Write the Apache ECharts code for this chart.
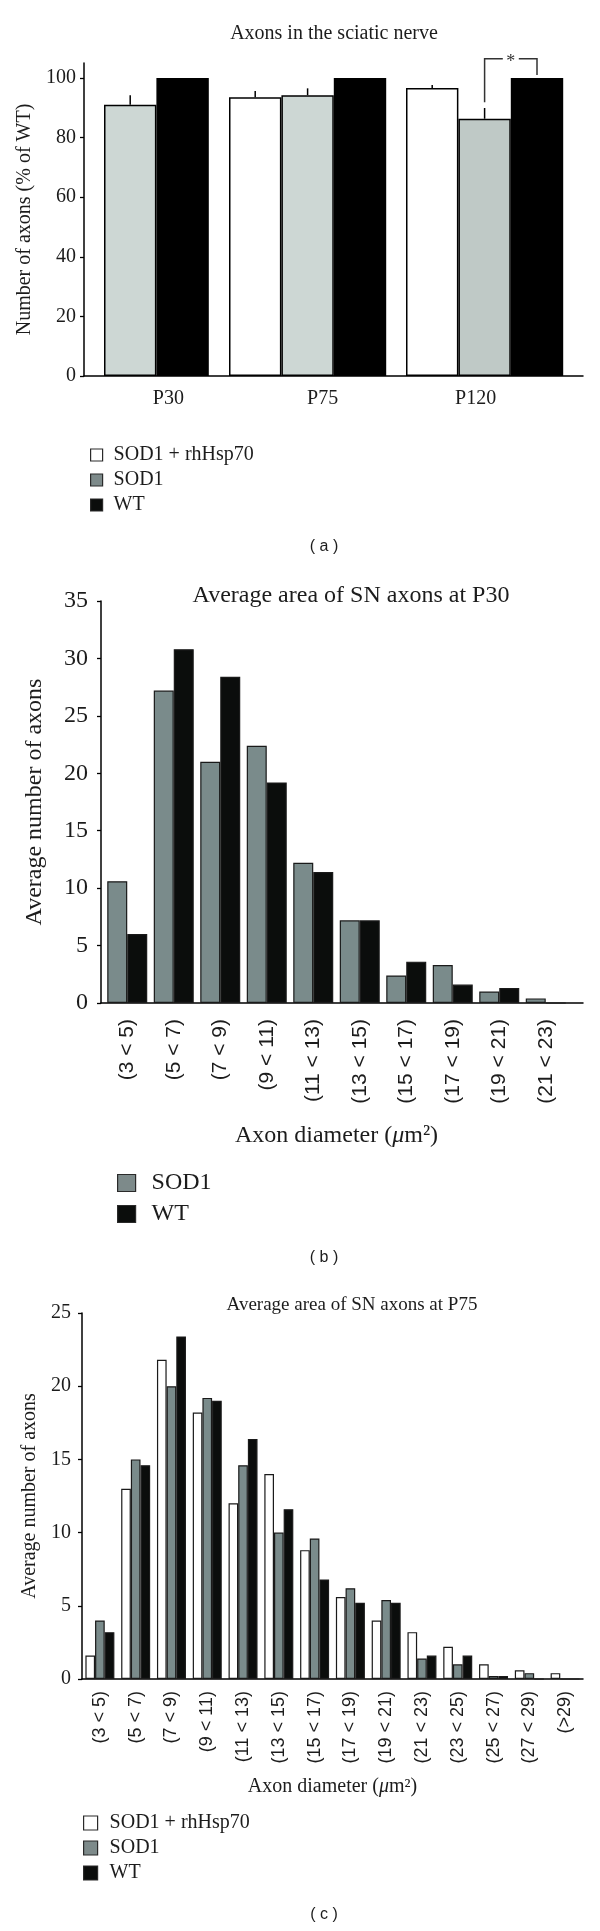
<!DOCTYPE html>
<html>
<head>
<meta charset="utf-8">
<script src="https://cdn.jsdelivr.net/npm/echarts@6/dist/echarts.min.js"></script>
<style>
html,body{margin:0;padding:0;background:#fff;}
#chart{width:600px;height:1931px;}
</style>
</head>
<body>
<div id="chart"></div>
<script>
// ---------------- DATA ----------------
// (a) Axons in the sciatic nerve (% of WT)
const aCategories = ['P30', 'P75', 'P120'];
const aHsp70    = [null, 93.5, 96.6];
const aHsp70Err = [null, 2.1, 1.0];
const aSOD1     = [91.0, 94.2, 86.3];
const aSOD1Err  = [3.2, 2.3, 3.6];
const aWT       = [100, 100, 100];
const aYTicks   = [0, 20, 40, 60, 80, 100];
const aBracket  = [106.4, 91.8, 101.0]; // P120 SOD1 vs WT: bracket top, left leg end, right leg end

// (b) Average area of SN axons at P30
const bCategories = ['(3 < 5)', '(5 < 7)', '(7 < 9)', '(9 < 11)', '(11 < 13)', '(13 < 15)', '(15 < 17)', '(17 < 19)', '(19 < 21)', '(21 < 23)'];
const bSOD1 = [10.6, 27.2, 21.0, 22.4, 12.2, 7.2, 2.4, 3.3, 1.0, 0.4];
const bWT   = [6.0, 30.8, 28.4, 19.2, 11.4, 7.2, 3.6, 1.6, 1.3, 0];
const bYTicks = [0, 5, 10, 15, 20, 25, 30, 35];

// (c) Average area of SN axons at P75
const cCategories = ['(3 < 5)', '(5 < 7)', '(7 < 9)', '(9 < 11)', '(11 < 13)', '(13 < 15)', '(15 < 17)', '(17 < 19)', '(19 < 21)', '(21 < 23)', '(23 < 25)', '(25 < 27)', '(27 < 29)', '(>29)'];
const cHsp70 = [1.6, 13.0, 21.8, 18.2, 12.0, 14.0, 8.8, 5.6, 4.0, 3.2, 2.2, 1.0, 0.6, 0.4];
const cSOD1  = [4.0, 15.0, 20.0, 19.2, 14.6, 10.0, 9.6, 6.2, 5.4, 1.4, 1.0, 0.2, 0.4, 0];
const cWT    = [3.2, 14.6, 23.4, 19.0, 16.4, 11.6, 6.8, 5.2, 5.2, 1.6, 1.6, 0.2, 0, 0];
const cYTicks = [0, 5, 10, 15, 20, 25];

// ---------------- STYLE / LAYOUT ----------------
const SERIF = '"Liberation Serif","DejaVu Serif",serif';
const SANS = '"Liberation Sans","DejaVu Sans",sans-serif';
const INK = '#1c1c1c';
const COL = { hsp: '#ffffff', sodA: '#cdd7d4', sodA120: '#bfc9c6', sod: '#7a8b8b', wtA: '#000000', wt: '#0b0d0c' };

const grids = [], xAxes = [], yAxes = [], series = [];
function addGrid(g) { grids.push(Object.assign({ outerBoundsMode: 'none' }, g)); return grids.length - 1; }
function addX(o) { xAxes.push(o); return xAxes.length - 1; }
function addY(o) { yAxes.push(o); return yAxes.length - 1; }

function axisLineStyle(w) { return { show: true, lineStyle: { color: '#000', width: w } }; }

function valueY(gi, max, interval, ticks, fontSize, margin, name, nameGap) {
  return addY({
    gridIndex: gi, type: 'value', min: 0, max: max, interval: interval,
    axisLine: axisLineStyle(1.5),
    axisTick: { show: true, length: 4, customValues: ticks, lineStyle: { color: '#000', width: 1.3 } },
    axisLabel: { customValues: ticks, fontFamily: SERIF, fontSize: fontSize, color: INK, margin: margin,
                 formatter: v => (ticks.indexOf(v) >= 0 ? String(v) : '') },
    splitLine: { show: false },
    name: name, nameLocation: 'middle', nameGap: nameGap,
    nameTextStyle: { fontFamily: SERIF, fontSize: fontSize, color: INK }
  });
}
function hiddenY(gi, max) { return addY({ gridIndex: gi, type: 'value', min: 0, max: max, show: false, splitLine: { show: false } }); }
function lineOnlyX(gi) {
  return addX({ gridIndex: gi, type: 'category', data: [''], axisLine: axisLineStyle(1.5),
                axisTick: { show: false }, axisLabel: { show: false } });
}

function errorSeries(xi, yi, slot, n, v, e) {
  return {
    type: 'custom', xAxisIndex: xi, yAxisIndex: yi, z: 5, clip: false, silent: true,
    data: [[0, v, v + e]],
    renderItem: (params, api) => {
      const p0 = api.coord([api.value(0), api.value(1)]);
      const p1 = api.coord([api.value(0), api.value(2)]);
      const bw = api.size([1, 0])[0] / n;
      const x = p0[0] + (slot - (n - 1) / 2) * bw;
      return { type: 'line', shape: { x1: x, y1: p0[1], x2: x, y2: p1[1] }, style: { stroke: '#000', lineWidth: 1.5 } };
    }
  };
}
function bracketSeries(xi, yi, s1, s2, n) {
  return {
    type: 'custom', xAxisIndex: xi, yAxisIndex: yi, z: 6, clip: false, silent: true,
    data: [[0, aBracket[0], aBracket[1], aBracket[2]]],
    renderItem: (params, api) => {
      const c = api.value(0);
      const top = api.coord([c, api.value(1)]);
      const l = api.coord([c, api.value(2)]);
      const r = api.coord([c, api.value(3)]);
      const bw = api.size([1, 0])[0] / n;
      const xl = top[0] + (s1 - (n - 1) / 2) * bw;
      const xr = top[0] + (s2 - (n - 1) / 2) * bw;
      const xm = (xl + xr) / 2, gap = 8;
      const st = { stroke: '#333', lineWidth: 1.5, fill: 'none' };
      return { type: 'group', children: [
        { type: 'polyline', shape: { points: [[xl, l[1]], [xl, top[1]], [xm - gap, top[1]]] }, style: st },
        { type: 'polyline', shape: { points: [[xm + gap, top[1]], [xr, top[1]], [xr, r[1]]] }, style: st },
        { type: 'text', x: xm, y: top[1] + 3, style: { text: '*', fontFamily: SERIF, fontSize: 18, fill: '#333', align: 'center', verticalAlign: 'middle' } }
      ]};
    }
  };
}

// ---------------- PANEL (a) ----------------
const A = { left: 84, right: 583, top: 63, height: 313, barW: 52.4, groupLeft: [104, 229, 406], labelShift: [12, 15, -9] };
const gA = addGrid({ left: A.left, top: A.top, width: A.right - A.left, height: A.height });
lineOnlyX(gA);
valueY(gA, 105, 20, aYTicks, 20, 8, 'Number of axons (% of WT)', 40);

const aDefs = [
  { name: 'SOD1 + rhHsp70', values: aHsp70, err: aHsp70Err, color: () => COL.hsp },
  { name: 'SOD1', values: aSOD1, err: aSOD1Err, color: cat => (cat === 'P120' ? COL.sodA120 : COL.sodA) },
  { name: 'WT', values: aWT, err: null, color: () => COL.wtA }
];
aCategories.forEach((cat, i) => {
  const present = aDefs.filter(d => d.values[i] != null);
  const n = present.length;
  const g = addGrid({ left: A.groupLeft[i], top: A.top, width: n * A.barW, height: A.height });
  const s = A.labelShift[i];
  const pad = s >= 0 ? [0, 0, 0, 2 * s] : [0, -2 * s, 0, 0];
  const xi = addX({ gridIndex: g, type: 'category', data: [cat], axisLine: { show: false }, axisTick: { show: false },
                    axisLabel: { fontFamily: SERIF, fontSize: 20, color: INK, margin: 13, padding: pad } });
  const yi = hiddenY(g, 105);
  present.forEach((d, slot) => {
    series.push({ type: 'bar', name: d.name, xAxisIndex: xi, yAxisIndex: yi, barGap: '0%', barCategoryGap: '0%',
      itemStyle: { color: d.color(cat), borderColor: '#000', borderWidth: 1.5 }, data: [d.values[i]] });
    if (d.err && d.err[i] != null) series.push(errorSeries(xi, yi, slot, n, d.values[i], d.err[i]));
  });
  if (cat === 'P120') {
    const s1 = present.findIndex(d => d.name === 'SOD1');
    const s2 = present.findIndex(d => d.name === 'WT');
    series.push(bracketSeries(xi, yi, s1, s2, n));
  }
});

// ---------------- PANEL (b) ----------------
const B = { axisLeft: 101, barLeft: 104, barRight: 569, right: 583, top: 601, height: 402 };
const gB = addGrid({ left: B.axisLeft, top: B.top, width: B.right - B.axisLeft, height: B.height });
lineOnlyX(gB);
valueY(gB, 35, 5, bYTicks, 24, 13, 'Average number of axons', 54);
const gB1 = addGrid({ left: B.barLeft, top: B.top, width: B.barRight - B.barLeft, height: B.height });
const xB1 = addX({ gridIndex: gB1, type: 'category', data: bCategories, axisLine: { show: false }, axisTick: { show: false },
  axisLabel: { rotate: 90, interval: 0, fontFamily: SANS, fontSize: 21, color: INK, margin: 16 },
  name: 'Axon diameter ({i|μ}m²)', nameLocation: 'middle', nameGap: 121,
  nameTextStyle: { fontFamily: SERIF, fontSize: 24, color: INK, rich: { i: { fontFamily: SERIF, fontSize: 24, fontStyle: 'italic', color: INK } } } });
const yB1 = hiddenY(gB1, 35);
[['SOD1', bSOD1, COL.sod], ['WT', bWT, COL.wt]].forEach(([name, vals, color]) => {
  series.push({ type: 'bar', name: name, xAxisIndex: xB1, yAxisIndex: yB1, barGap: '0%', barCategoryGap: '14%',
    itemStyle: { color: color, borderColor: '#1a1a1a', borderWidth: 1.2 }, data: vals });
});

// ---------------- PANEL (c) ----------------
const C = { left: 82, right: 583, top: 1313, height: 366 };
const gC = addGrid({ left: C.left, top: C.top, width: C.right - C.left, height: C.height });
const xC = addX({ gridIndex: gC, type: 'category', data: cCategories, axisLine: axisLineStyle(1.5), axisTick: { show: false },
  axisLabel: { rotate: 90, interval: 0, fontFamily: SANS, fontSize: 18, color: INK, margin: 12 },
  name: 'Axon diameter ({i|μ}m²)', nameLocation: 'middle', nameGap: 98,
  nameTextStyle: { fontFamily: SERIF, fontSize: 20, color: INK, rich: { i: { fontFamily: SERIF, fontSize: 20, fontStyle: 'italic', color: INK } } } });
const yC = valueY(gC, 25, 5, cYTicks, 20, 11, 'Average number of axons', 39);
[['SOD1 + rhHsp70', cHsp70, COL.hsp], ['SOD1', cSOD1, COL.sod], ['WT', cWT, COL.wt]].forEach(([name, vals, color]) => {
  series.push({ type: 'bar', name: name, xAxisIndex: xC, yAxisIndex: yC, barGap: '0%', barCategoryGap: '19%',
    itemStyle: { color: color, borderColor: '#1a1a1a', borderWidth: 1.2 }, data: vals });
});

// ---------------- LEGENDS ----------------
function legendItems(names) {
  const fills = { 'SOD1 + rhHsp70': '#ffffff', 'SOD1': '#7d8a8a', 'WT': '#0b0d0c' };
  return names.map(n => ({ name: n, icon: 'rect', itemStyle: { color: fills[n], borderColor: '#2a2a2a', borderWidth: 1.2 } }));
}
const legends = [
  { left: 85, top: 440, orient: 'vertical', itemWidth: 12, itemHeight: 12, itemGap: 5, selectedMode: false,
    textStyle: { fontFamily: SERIF, fontSize: 20, color: INK, padding: [0, 0, 0, 6] },
    data: legendItems(['SOD1 + rhHsp70', 'SOD1', 'WT']) },
  { left: 112, top: 1166, orient: 'vertical', itemWidth: 18, itemHeight: 17, itemGap: 7, selectedMode: false,
    textStyle: { fontFamily: SERIF, fontSize: 24, color: INK, padding: [0, 0, 0, 11] },
    data: legendItems(['SOD1', 'WT']) },
  { left: 78, top: 1808, orient: 'vertical', itemWidth: 14, itemHeight: 14, itemGap: 5, selectedMode: false,
    textStyle: { fontFamily: SERIF, fontSize: 20, color: INK, padding: [0, 0, 0, 7] },
    data: legendItems(['SOD1 + rhHsp70', 'SOD1', 'WT']) }
];

// ---------------- TEXTS ----------------
function txt(x, y, text, family, size) {
  return { type: 'text', x: x, y: y, silent: true,
    style: { text: text, fontFamily: family, fontSize: size, fill: INK, align: 'center', verticalAlign: 'middle' } };
}
const texts = [
  txt(334, 34, 'Axons in the sciatic nerve', SERIF, 20),
  txt(324, 547, '( a )', SANS, 16),
  txt(351, 596, 'Average area of SN axons at P30', SERIF, 24),
  txt(324, 1258, '( b )', SANS, 16),
  txt(352, 1305, 'Average area of SN axons at P75', SERIF, 19),
  txt(324, 1915, '( c )', SANS, 16)
];

const chart = echarts.init(document.getElementById('chart'), null, { renderer: 'canvas' });
chart.setOption({
  animation: false,
  backgroundColor: '#ffffff',
  grid: grids, xAxis: xAxes, yAxis: yAxes,
  legend: legends,
  graphic: { elements: texts },
  series: series
});
</script>
</body>
</html>
